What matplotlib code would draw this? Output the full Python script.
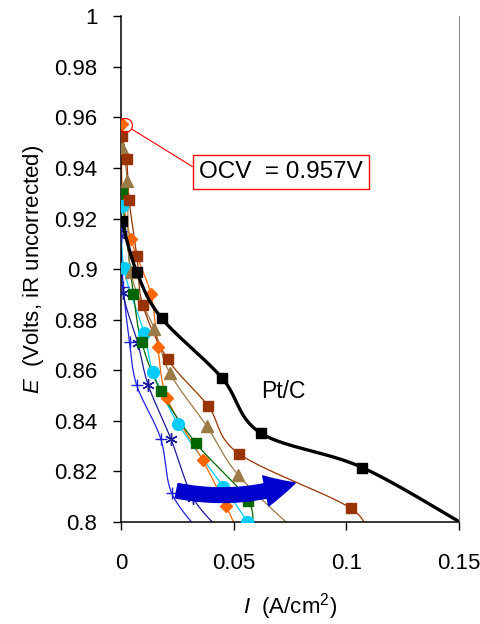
import numpy as np
import matplotlib
matplotlib.use("Agg")
import matplotlib.pyplot as plt
from matplotlib.patches import FancyArrowPatch

plt.rcParams['font.family'] = ['Liberation Sans', 'DejaVu Sans']
plt.rcParams['mathtext.fontset'] = 'custom'
plt.rcParams['mathtext.rm'] = 'Liberation Sans'
plt.rcParams['mathtext.it'] = 'Liberation Sans:italic'

# data (I in A/cm2, E in V)
ptc_i = [0.0003, 0.007, 0.018, 0.0448, 0.062, 0.1072, 0.156]
ptc_e = [0.919, 0.8988, 0.8806, 0.857, 0.8352, 0.8215, 0.797]

brown_i = [0.0003, 0.0025, 0.0036, 0.007, 0.0096, 0.0207, 0.0387, 0.0525, 0.102, 0.109]
brown_e = [0.9527, 0.9437, 0.9273, 0.9053, 0.886, 0.8644, 0.8458, 0.8269, 0.8054, 0.793]

tan_i = [0.0003, 0.0028, 0.0043, 0.0148, 0.0217, 0.038, 0.052, 0.078]
tan_e = [0.948, 0.9348, 0.8989, 0.8764, 0.8588, 0.838, 0.8186, 0.796]

orange_i = [0.0003, 0.0006, 0.0043, 0.0132, 0.0163, 0.0205, 0.0362, 0.0466, 0.052]
orange_e = [0.9572, 0.931, 0.9121, 0.8901, 0.8693, 0.8489, 0.8245, 0.8063, 0.796]

green_i = [0.0003, 0.0055, 0.0092, 0.0176, 0.0333, 0.0565, 0.0575]
green_e = [0.93, 0.89, 0.871, 0.8519, 0.8311, 0.8084, 0.795]

cyan_i = [0.0003, 0.0013, 0.0103, 0.0143, 0.0254, 0.0454, 0.056, 0.058]
cyan_e = [0.925, 0.9003, 0.8746, 0.8592, 0.8387, 0.814, 0.8001, 0.795]

plus_i = [0.0, 0.001, 0.0038, 0.007, 0.0176, 0.0225, 0.036]
plus_e = [0.915, 0.893, 0.871, 0.854, 0.833, 0.8114, 0.795]

star_i = [0.0, 0.001, 0.0075, 0.0121, 0.0222, 0.0321, 0.046]
star_e = [0.913, 0.8904, 0.8706, 0.8541, 0.8327, 0.8094, 0.795]

ocv = 0.957
ocv_i = 0.0018

yticks = [0.8, 0.82, 0.84, 0.86, 0.88, 0.9, 0.92, 0.94, 0.96, 0.98, 1.0]
ytick_labels = ['0.8', '0.82', '0.84', '0.86', '0.88', '0.9', '0.92', '0.94', '0.96', '0.98', '1']
xticks = [0, 0.05, 0.1, 0.15]
xtick_labels = ['0', '0.05', '0.1', '0.15']


# Excel style smoothed line (bezier through the points)
def smooth(x, y, n=25):
    sx, sy = 0.15 / 338, 0.2 / 506
    p = np.column_stack([np.array(x) / sx, np.array(y) / sy])
    out = []
    t = np.linspace(0, 1, n)[:, None]
    for i in range(len(p) - 1):
        p0 = p[max(i - 1, 0)]
        p1 = p[i]
        p2 = p[i + 1]
        p3 = p[min(i + 2, len(p) - 1)]
        c1 = p1 + (p2 - p0) / 6
        c2 = p2 - (p3 - p1) / 6
        seg = (1 - t)**3 * p1 + 3 * (1 - t)**2 * t * c1 + 3 * (1 - t) * t**2 * c2 + t**3 * p2
        out.append(seg)
    out = np.vstack(out)
    return out[:, 0] * sx, out[:, 1] * sy


fig = plt.figure(figsize=(4.81, 6.24), dpi=100)
ax = fig.add_axes([0.2516, 0.1635, 0.954 - 0.2516, 0.974 - 0.1635])

series = [
    (plus_i, plus_e, '#2020E0', '+', 9, 'none'),
    (star_i, star_e, '#1A1A9A', (6, 2, 0), 9, 'none'),
    (cyan_i, cyan_e, '#00CCFF', 'o', 8.5, None),
    (orange_i, orange_e, '#FF6600', 'D', 6.5, None),
    (green_i, green_e, '#006600', 's', 7.5, None),
    (tan_i, tan_e, '#9C7A45', '^', 8, None),
    (brown_i, brown_e, '#993300', 's', 7.5, None),
]
for xi, ye, col, mk, ms, mf in series:
    sx, sy = smooth(xi, ye)
    ax.plot(sx, sy, color=col, lw=0.9, zorder=2)
    ax.plot(xi, ye, ls='none', marker=mk, ms=ms, color=col, mec=col,
            mew=1.0, zorder=3)

sx, sy = smooth(ptc_i, ptc_e)
ax.plot(sx, sy, color='black', lw=2.4, zorder=4)
ax.plot(ptc_i, ptc_e, ls='none', marker='s', ms=7.5, color='black', zorder=5)

# OCV marker and callout
ax.plot([ocv_i], [ocv], ls='none', marker='o', ms=10, mfc='none', mec='red',
        mew=0.9, zorder=6)
ax.annotate('OCV  = %.3fV' % ocv, xy=(ocv_i, ocv), xytext=(0.0346, 0.9385),
            fontsize=17.5, ha='left', va='center',
            bbox=dict(boxstyle='square,pad=0.25', fc='white', ec='red', lw=1),
            arrowprops=dict(arrowstyle='-', color='red', lw=0.8, shrinkA=0,
                            shrinkB=6, relpos=(0, 0.55)), zorder=7)

ax.text(0.0624, 0.8515, 'Pt/C', fontsize=16.5, ha='left', va='center')

arrow = FancyArrowPatch((0.0235, 0.8126), (0.0785, 0.8158),
                        connectionstyle='arc3,rad=0.14',
                        arrowstyle='simple,head_length=22,head_width=22,tail_width=10.5',
                        color='#0000CC', zorder=8)
ax.add_patch(arrow)

ax.set_xlim(0, 0.15)
ax.set_ylim(0.8, 1.0)
ax.set_xticks(xticks)
ax.set_xticklabels(xtick_labels)
ax.set_yticks(yticks)
ax.set_yticklabels(ytick_labels)
ax.tick_params(axis='both', direction='out', length=6, width=1, labelsize=16)
ax.tick_params(axis='y', pad=11)
ax.tick_params(axis='x', pad=16)

ax.spines['top'].set_visible(False)
ax.spines['right'].set_color('#909090')
ax.spines['right'].set_linewidth(0.8)
ax.spines['left'].set_linewidth(1.1)
ax.spines['bottom'].set_linewidth(1.1)

ax.set_ylabel(r'$\mathit{E}$  (Volts, iR uncorrected)', fontsize=16, labelpad=6)
ax.set_xlabel(r'$\mathit{I}$  (A/cm$^{2}$)', fontsize=16, labelpad=13)

fig.savefig('out.png', dpi=100)
